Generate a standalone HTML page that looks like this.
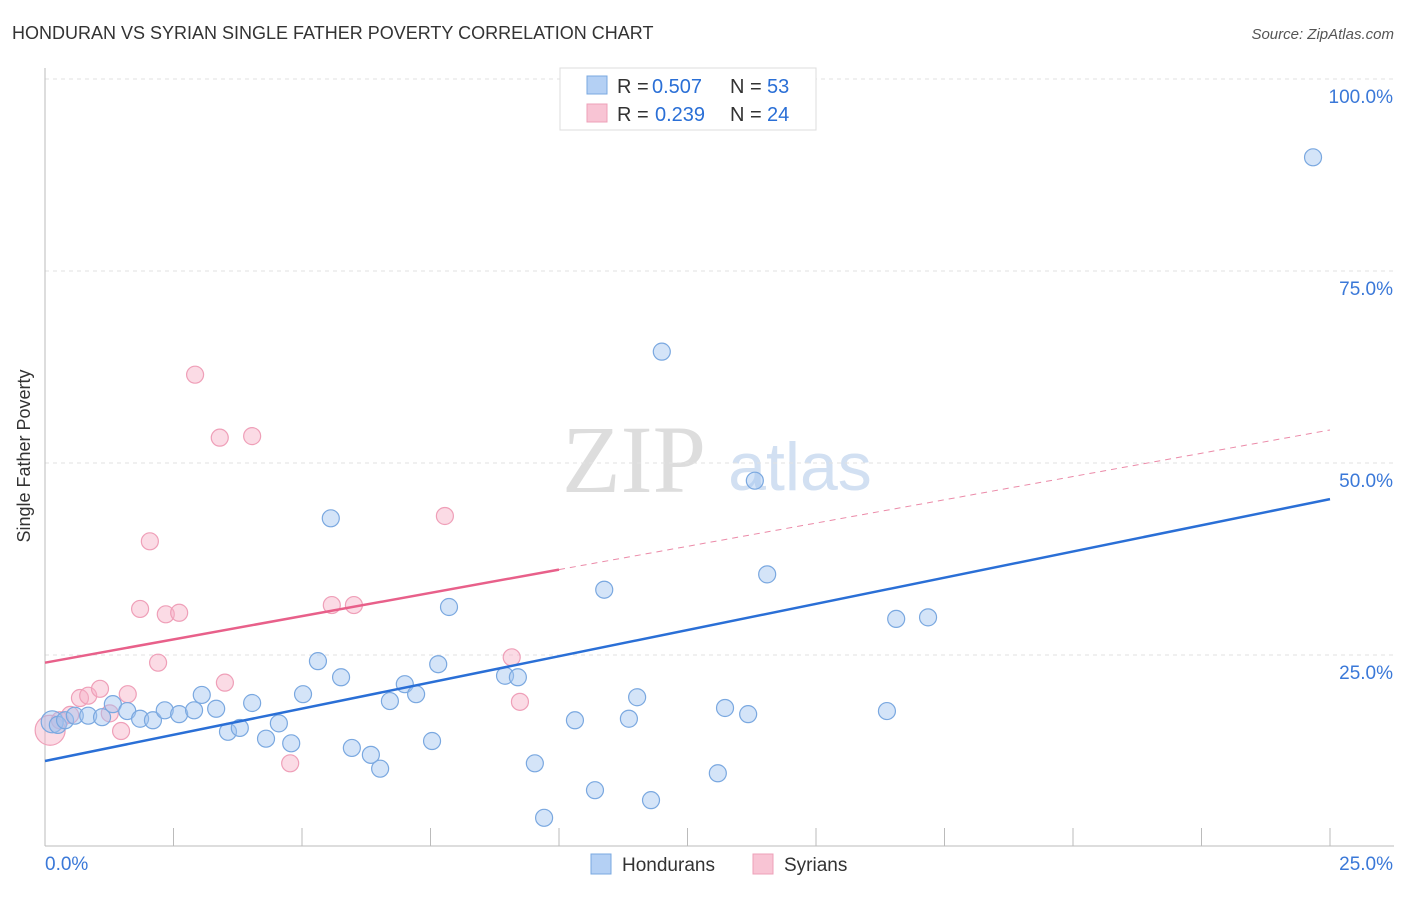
<!DOCTYPE html>
<html><head><meta charset="utf-8"><style>
body{margin:0;background:#fff;font-family:"Liberation Sans",sans-serif;}
svg text{font-family:"Liberation Sans",sans-serif;}
</style></head><body>
<svg width="1406" height="892" viewBox="0 0 1406 892">
<text x="12" y="39" font-size="18" fill="#333">HONDURAN VS SYRIAN SINGLE FATHER POVERTY CORRELATION CHART</text>
<text x="1394" y="39" font-size="15" fill="#555" text-anchor="end" font-style="italic">Source: ZipAtlas.com</text>
<text x="30" y="456" font-size="18" fill="#333" transform="rotate(-90 30 456)" text-anchor="middle">Single Father Poverty</text>
<text x="634" y="492" font-size="96" fill="#ddd" text-anchor="middle" style="font-family:'Liberation Serif',serif">ZIP</text>
<text x="800" y="490" font-size="68" fill="#d2e0f2" text-anchor="middle">atlas</text>
<g id="grid"></g>
<g id="marks"></g>
<g>
<rect x="560" y="68" width="256" height="62" fill="#fff" stroke="#ddd"/>
<rect x="587" y="76" width="20" height="18" fill="#b4d0f4" stroke="#7aa8e0"/>
<rect x="587" y="104" width="20" height="18" fill="#f8c4d4" stroke="#eea0b8"/>
<text x="617" y="93" font-size="20" fill="#333">R =</text>
<text x="652" y="93" font-size="20" fill="#2a6fd6">0.507</text>
<text x="730" y="93" font-size="20" fill="#333">N =</text>
<text x="767" y="93" font-size="20" fill="#2a6fd6">53</text>
<text x="617" y="121" font-size="20" fill="#333">R =</text>
<text x="655" y="121" font-size="20" fill="#2a6fd6">0.239</text>
<text x="730" y="121" font-size="20" fill="#333">N =</text>
<text x="767" y="121" font-size="20" fill="#2a6fd6">24</text>
</g>
<g>
<rect x="591" y="854" width="20" height="20" fill="#b4d0f4" stroke="#7aa8e0"/>
<text x="622" y="871" font-size="19" fill="#333">Hondurans</text>
<rect x="753" y="854" width="20" height="20" fill="#f8c4d4" stroke="#eea0b8"/>
<text x="784" y="871" font-size="19" fill="#333">Syrians</text>
</g>
</svg>
<script>
const blueX=[0.14,0.25,0.39,0.58,0.84,1.11,1.32,1.60,1.85,2.10,2.33,2.61,2.90,3.05,3.33,3.56,3.79,4.03,4.30,4.55,4.79,5.02,5.31,5.56,5.76,5.97,6.34,6.52,6.71,7.00,7.22,7.53,7.65,7.86,8.95,9.20,9.53,9.71,10.31,10.70,10.88,11.36,11.52,11.79,12.00,13.09,13.23,13.68,13.81,14.05,16.38,16.56,17.18,24.67];
const blueY=[16.3,15.9,16.5,17.1,17.1,16.9,18.6,17.7,16.7,16.5,17.8,17.3,17.8,19.8,18.0,15.0,15.5,18.75,14.1,16.1,13.5,19.9,24.2,42.8,22.1,12.9,12.0,10.2,19.0,21.2,19.9,13.8,23.8,31.25,22.3,22.1,10.9,3.8,16.5,7.4,33.5,16.7,19.5,6.1,64.5,9.6,18.1,17.3,47.7,35.5,17.7,29.7,29.9,89.8];
const pinkX=[0.10,0.29,0.49,0.68,0.84,1.07,1.26,1.48,1.61,1.85,2.04,2.20,2.35,2.61,2.92,3.40,3.50,4.03,4.77,5.58,6.01,7.78,9.08,9.24];
const pinkY=[15.2,16.5,17.2,19.4,19.7,20.6,17.4,15.1,19.9,31.0,39.8,24.0,30.3,30.5,61.5,53.3,21.4,53.5,10.9,31.5,31.5,43.1,24.7,18.9];
const blueLine=[11.2,45.3];
const pinkLine=[24.0,54.3];
const pinkSolidEnd=10;
const yTicks=[25,50,75,100];
const NS='http://www.w3.org/2000/svg';
const sx=v=>45+v*(1285/25), sy=v=>847-v*7.68;
const grid=document.getElementById('grid'), marks=document.getElementById('marks');
function mk(tag,attrs,parent){const e=document.createElementNS(NS,tag);for(const k in attrs)e.setAttribute(k,attrs[k]);parent.appendChild(e);return e;}
yTicks.forEach(t=>{
 const l=mk('line',{x1:45,x2:1394,y1:sy(t),y2:sy(t),stroke:'#e2e2e2','stroke-dasharray':'4,4'},grid);
 
 
 const tx=mk('text',{x:1393,y:sy(t)+24,'font-size':19,fill:'#3a78d8','text-anchor':'end'},grid);tx.textContent=t.toFixed(1)+'%';
 
 
});
mk('line',{x1:45,x2:45,y1:68,y2:846,stroke:'#bbb'},grid);
mk('line',{x1:45,x2:1394,y1:846,y2:846,stroke:'#bbb'},grid);
for(let i=0;i<=10;i++){const x=sx(i*2.5);const t=mk('line',{x1:x,x2:x,y1:828,y2:846,stroke:'#bbb'},grid);
 
 }
const x0=mk('text',{x:45,y:870,'font-size':19,fill:'#3a78d8'},grid);x0.textContent='0.0%';


const x1=mk('text',{x:1393,y:870,'font-size':19,fill:'#3a78d8','text-anchor':'end'},grid);x1.textContent='25.0%';


pinkX.forEach((x,i)=>{const c=mk('circle',{cx:sx(x),cy:sy(pinkY[i]),r:i==0?15:8.5,fill:'rgba(246,176,198,0.45)',stroke:'#ef9fb8','stroke-width':1.2},marks);
 
 });
blueX.forEach((x,i)=>{const c=mk('circle',{cx:sx(x),cy:sy(blueY[i]),r:i==0?11:8.5,fill:'rgba(160,196,240,0.45)',stroke:'#7aa8e0','stroke-width':1.2},marks);
 
 });
const bl=mk('line',{x1:sx(0),y1:sy(blueLine[0]),x2:sx(25),y2:sy(blueLine[1]),stroke:'#2a6fd6','stroke-width':2.5},marks);


const pm=pinkLine[0]+(pinkLine[1]-pinkLine[0])*pinkSolidEnd/25;
const pl=mk('line',{x1:sx(0),y1:sy(pinkLine[0]),x2:sx(pinkSolidEnd),y2:sy(pm),stroke:'#e8608a','stroke-width':2.5},marks);


const pd=mk('line',{x1:sx(pinkSolidEnd),y1:sy(pm),x2:sx(25),y2:sy(pinkLine[1]),stroke:'#eb8aa8','stroke-width':1,'stroke-dasharray':'6,5'},marks);


</script>
</body></html>
